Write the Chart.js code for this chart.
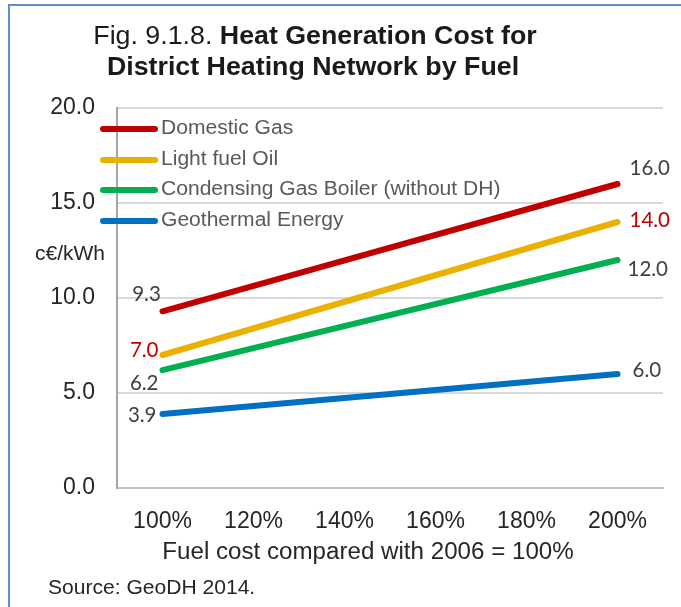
<!DOCTYPE html>
<html>
<head>
<meta charset="utf-8">
<script src="https://cdn.jsdelivr.net/npm/chart.js@4"></script>
<style>
  html, body { margin: 0; padding: 0; background: #fff; }
  #wrap { width: 681px; height: 607px; position: relative; }
</style>
</head>
<body>
<div id="wrap"><canvas id="heat-chart"></canvas></div>
<script>
// categories on the x axis (fuel cost index)
var categories = ["100%", "120%", "140%", "160%", "180%", "200%"];

// only the two end values are given in the figure
var domesticGas = [9.3, null, null, null, null, 16.0];
var lightFuelOil = [7.0, null, null, null, null, 14.0];
var condensingGas = [6.2, null, null, null, null, 12.0];
var geothermal = [3.9, null, null, null, null, 6.0];

var seriesNames = ["Domestic Gas", "Light fuel Oil", "Condensing Gas Boiler (without DH)", "Geothermal Energy"];
var seriesColors = ["#C00000", "#EBB000", "#00B050", "#0070C0"];

// label offsets for start / end value labels  [dx, dy, align]
var startLabels = [[-16, -17, "center"], [-4, -5, "right"], [-4, 13, "right"], [-6, 1, "right"]];
var endLabels = [[12, -16, "left"], [12, -2, "left"], [10, 9, "left"], [15, -4, "left"]];
var labelColors = ["#404040", "#C00000", "#404040", "#404040"];

var sans = "'Liberation Sans', Arial, sans-serif";

// text with a small horizontal stretch (the source image is a bit wide)
function wideText(c, text, x, y, align, sx) {
    var w = c.measureText(text).width * sx;
    var left = x;
    if (align === "center") left = x - w / 2;
    else if (align === "right") left = x - w;
    c.save();
    c.translate(left, y);
    c.scale(sx, 1);
    c.textAlign = "left";
    c.fillText(text, 0, 0);
    c.restore();
    return w;
}

var decorPlugin = {
    id: "decor",
    afterDraw: function (chart) {
        var c = chart.ctx;
        c.save();

        // frame lines (top + left)
        c.strokeStyle = "#5B8FD0";
        c.lineWidth = 2;
        c.beginPath();
        c.moveTo(9, 607);
        c.lineTo(9, 5);
        c.lineTo(681, 5);
        c.stroke();

        // title
        c.fillStyle = "#1a1a1a";
        c.textBaseline = "alphabetic";
        var sx = 1.03;
        var part1 = "Fig. 9.1.8. ";
        var part2 = "Heat Generation Cost for";
        c.font = "26px " + sans;
        var w1 = c.measureText(part1).width * sx;
        c.font = "bold 26px " + sans;
        var w2 = c.measureText(part2).width * sx;
        var x0 = 315 - (w1 + w2) / 2;
        c.font = "26px " + sans;
        wideText(c, part1, x0, 44, "left", sx);
        c.font = "bold 26px " + sans;
        wideText(c, part2, x0 + w1, 44, "left", sx);
        wideText(c, "District Heating Network by Fuel", 313, 75, "center", sx);

        // unit label
        c.font = "20px " + sans;
        c.fillStyle = "#262626";
        c.textBaseline = "middle";
        wideText(c, "c\u20AC/kWh", 35, 254, "left", 1.05);

        // x axis title and source
        c.font = "23px " + sans;
        wideText(c, "Fuel cost compared with 2006 = 100%", 368, 553, "center", 1.05);
        c.font = "19.5px " + sans;
        wideText(c, "Source: GeoDH 2014.", 48, 589, "left", 1.08);

        // legend
        var legendY = [129, 160, 190, 221];
        c.lineCap = "round";
        c.lineWidth = 6;
        c.font = "19.5px " + sans;
        for (var i = 0; i < seriesNames.length; i++) {
            c.strokeStyle = seriesColors[i];
            c.beginPath();
            c.moveTo(103, legendY[i]);
            c.lineTo(155, legendY[i]);
            c.stroke();
            c.fillStyle = "#595959";
            wideText(c, seriesNames[i], 161, legendY[i], "left", 1.08);
        }

        // value labels at both ends
        c.font = "20.5px Lato, 'Open Sans', sans-serif";
        c.textBaseline = "middle";
        chart.data.datasets.forEach(function (ds, i) {
            var meta = chart.getDatasetMeta(i);
            var first = meta.data[0];
            var last = meta.data[meta.data.length - 1];
            c.fillStyle = labelColors[i];
            var s = startLabels[i];
            c.textAlign = s[2];
            c.fillText(ds.data[0].toFixed(1), first.x + s[0], first.y + s[1]);
            var e = endLabels[i];
            c.textAlign = e[2];
            c.fillText(ds.data[ds.data.length - 1].toFixed(1), last.x + e[0], last.y + e[1]);
        });

        c.restore();
    }
};

var seriesData = [domesticGas, lightFuelOil, condensingGas, geothermal];

var ctx = document.getElementById("heat-chart").getContext("2d");

var config = {
    type: "line",
    data: {
        labels: categories,
        datasets: seriesData.map(function (d, i) {
            return {
                label: seriesNames[i],
                data: d,
                borderColor: seriesColors[i],
                backgroundColor: seriesColors[i],
                borderWidth: 6,
                borderCapStyle: "round",
                pointRadius: 0,
                spanGaps: true,
                tension: 0,
            };
        }),
    },
    options: {
        responsive: true,
        maintainAspectRatio: false,
        animation: false,
        layout: {
            padding: { left: 20, right: 18, top: 108, bottom: 0 },
        },
        plugins: {
            legend: { display: false },
            tooltip: { enabled: false },
        },
        scales: {
            x: {
                offset: true,
                grid: { display: false, drawTicks: false },
                border: { display: true, color: "#BFBFBF", width: 2 },
                ticks: {
                    color: "#262626",
                    font: { family: sans, size: 23 },
                    padding: 20,
                    maxRotation: 0,
                },
                afterFit: function (scale) {
                    scale.height = 119;
                },
            },
            y: {
                min: 0,
                max: 20,
                grid: { color: "#D9D9D9", lineWidth: 2, drawTicks: false },
                border: { display: true, color: "#A6A6A6", width: 2 },
                ticks: {
                    stepSize: 5,
                    color: "#262626",
                    font: { family: sans, size: 23 },
                    padding: 22,
                    callback: function (v) {
                        return Number(v).toFixed(1);
                    },
                },
                afterFit: function (scale) {
                    scale.width = 97;
                },
            },
        },
    },
    plugins: [decorPlugin],
};

var heatChart = new Chart(ctx, config);
</script>
</body>
</html>
